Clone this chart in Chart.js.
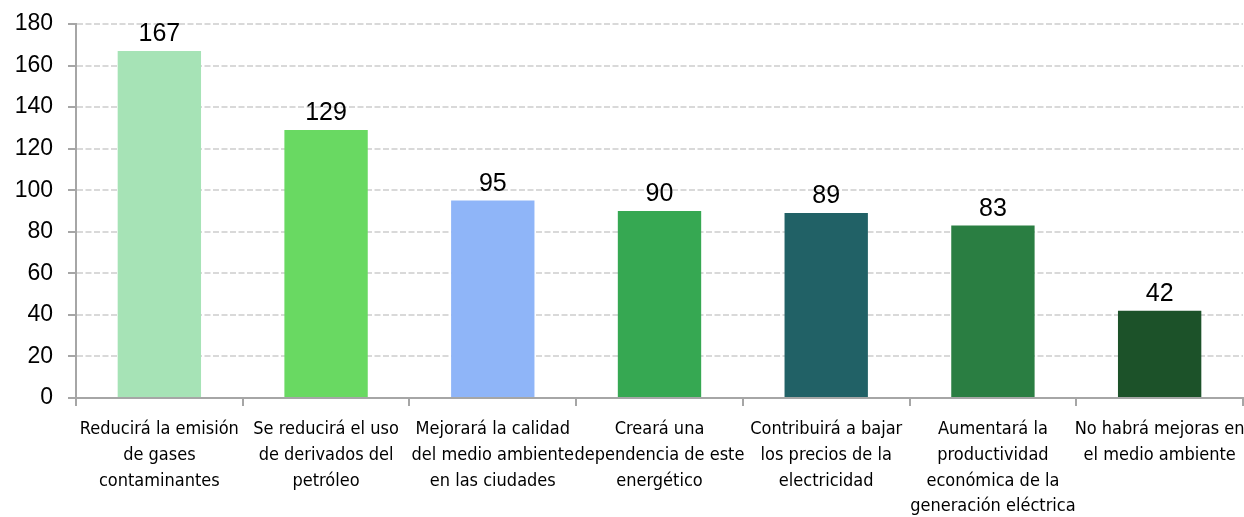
<!DOCTYPE html>
<html>
<head>
<meta charset="utf-8">
<script src="https://cdn.jsdelivr.net/npm/chart.js@4"></script>
<style>
  html, body { margin: 0; padding: 0; background: #ffffff; }
  #wrap { width: 1244px; height: 517px; position: relative; }
</style>
</head>
<body>
<div id="wrap"><canvas id="chart"></canvas></div>
<script>
// Categories (each label split into display lines)
const categories = [
  ["Reducirá la emisión", "de gases", "contaminantes"],
  ["Se reducirá el uso", "de derivados del", "petróleo"],
  ["Mejorará la calidad", "del medio ambiente", "en las ciudades"],
  ["Creará una", "dependencia de este", "energético"],
  ["Contribuirá a bajar", "los precios de la", "electricidad"],
  ["Aumentará la", "productividad", "económica de la", "generación eléctrica"],
  ["No habrá mejoras en", "el medio ambiente"]
];
const values = [167, 129, 95, 90, 89, 83, 42];
const barColors = ["#A6E3B6", "#69D962", "#8FB5F8", "#36A852", "#216166", "#2A7E42", "#1C5229"];
const yTicks = [0, 20, 40, 60, 80, 100, 120, 140, 160, 180];

// Writes each bar's value just above it
const valueLabels = {
  id: 'valueLabels',
  afterDatasetsDraw(chart) {
    const ctx = chart.ctx;
    const meta = chart.getDatasetMeta(0);
    ctx.save();
    ctx.font = '25px "Liberation Sans", Arial, sans-serif';
    ctx.fillStyle = '#000000';
    ctx.textAlign = 'center';
    ctx.textBaseline = 'alphabetic';
    meta.data.forEach((bar, i) => {
      ctx.fillText(String(values[i]), bar.x, bar.y - 10);
    });
    ctx.restore();
  }
};

new Chart(document.getElementById('chart'), {
  type: 'bar',
  data: {
    labels: categories,
    datasets: [{
      data: values,
      backgroundColor: barColors,
      borderWidth: 0,
      barPercentage: 0.5,
      categoryPercentage: 1.0
    }]
  },
  options: {
    responsive: true,
    maintainAspectRatio: false,
    animation: false,
    devicePixelRatio: 1,
    layout: { padding: { top: 24, right: 1, left: 0, bottom: 0 } },
    plugins: {
      legend: { display: false },
      tooltip: { enabled: false }
    },
    scales: {
      x: {
        afterFit(scale) {
          scale.height = 119;
          scale.paddingLeft = 0;
          scale.paddingRight = 0;
        },
        grid: {
          display: true,
          offset: true,
          drawOnChartArea: false,
          drawTicks: true,
          tickLength: 8,
          tickColor: '#A6A6A6',
          lineWidth: 2
        },
        border: { display: true, color: '#A6A6A6', width: 2 },
        ticks: {
          color: '#000000',
          padding: 11,
          maxRotation: 0,
          autoSkip: false,
          font: { family: '"Liberation Sans Narrow", "DejaVu Sans Condensed", sans-serif', size: 18, lineHeight: 1.42 }
        }
      },
      y: {
        min: 0,
        max: 180,
        afterFit(scale) {
          scale.width = 76;
          scale.paddingTop = 0;
          scale.paddingBottom = 0;
        },
        afterBuildTicks(scale) { scale.ticks = yTicks.map(v => ({ value: v })); },
        grid: {
          color: '#D9D9D9',
          lineWidth: 2,
          drawTicks: true,
          tickLength: 8,
          tickColor: '#A6A6A6',
          tickWidth: 2,
          tickBorderDash: []
        },
        border: { display: true, color: '#A6A6A6', width: 2, dash: [6, 2.5] },
        ticks: {
          color: '#000000',
          padding: 15,
          font: { family: '"Liberation Sans", Arial, sans-serif', size: 23 }
        }
      }
    }
  },
  plugins: [valueLabels]
});
</script>
</body>
</html>
